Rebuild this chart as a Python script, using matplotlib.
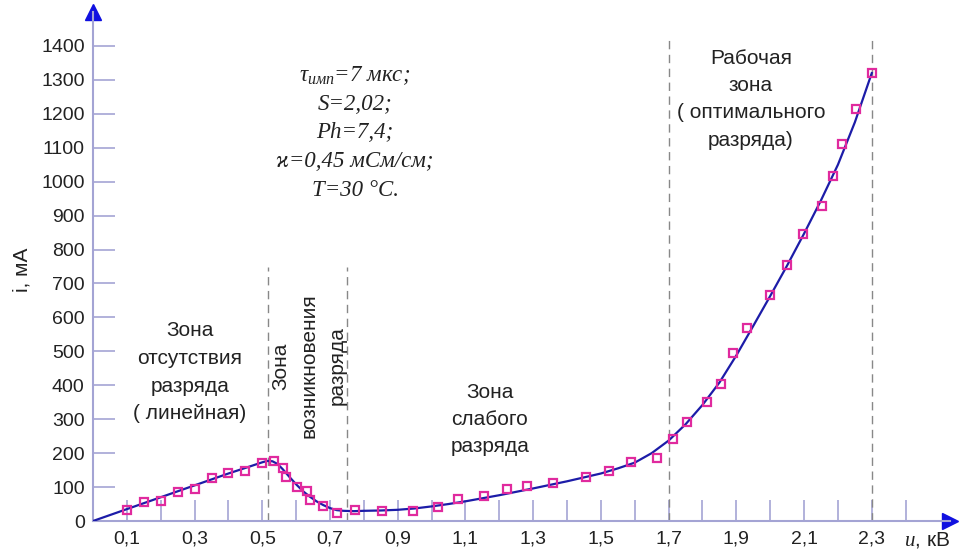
import numpy as np
import matplotlib
matplotlib.use('Agg')
import matplotlib.pyplot as plt

plt.rcParams['font.family'] = ['Liberation Sans', 'DejaVu Sans']
plt.rcParams['mathtext.fontset'] = 'custom'
plt.rcParams['mathtext.it'] = 'Liberation Serif:italic'
plt.rcParams['mathtext.rm'] = 'Liberation Serif'

# измеренные точки (u, кВ ; i, мА)
u_meas = [0.10, 0.15, 0.20, 0.25, 0.30, 0.35, 0.40, 0.45, 0.50, 0.535, 0.562, 0.57,
          0.603, 0.632, 0.641, 0.679, 0.72, 0.774, 0.853, 0.945, 1.018, 1.078, 1.155,
          1.223, 1.282, 1.358, 1.456, 1.524, 1.59, 1.667, 1.713, 1.754, 1.813, 1.854,
          1.89, 1.932, 2.0, 2.049, 2.097, 2.153, 2.185, 2.212, 2.253, 2.301]
i_meas = [33, 57, 60, 85, 93, 128, 142, 148, 171, 177, 157, 131,
          99, 89, 62, 45, 24, 32, 30, 30, 41, 64, 74,
          94, 103, 112, 129, 148, 174, 185, 241, 293, 351, 404,
          495, 569, 665, 754, 846, 928, 1017, 1111, 1214, 1320]

# аппроксимирующая кривая
u_fit = [0.0, 0.1, 0.2, 0.3, 0.4, 0.47, 0.5, 0.515, 0.53, 0.545, 0.56, 0.58, 0.60,
         0.62, 0.64, 0.66, 0.68, 0.70, 0.72, 0.74, 0.77, 0.8, 0.85, 0.9, 0.95, 1.0,
         1.05, 1.1, 1.2, 1.3, 1.4, 1.5, 1.55, 1.6, 1.65, 1.7, 1.75, 1.8, 1.85, 1.9,
         1.95, 2.0, 2.05, 2.1, 2.15, 2.2, 2.25, 2.3]
i_fit = [0, 35, 70, 105, 140, 163, 173, 177, 176, 168, 153, 130, 108,
         88, 72, 58, 47, 38, 32, 30, 29, 30, 31, 33, 37, 43,
         50, 58, 76, 96, 117, 140, 155, 172, 200, 237, 285, 342, 408, 488,
         575, 663, 753, 847, 945, 1050, 1175, 1320]

zone_u = [0.517, 0.75, 1.70, 2.30]
zone_top = [750, 750, 1420, 1420]

x_major = np.arange(0.1, 2.31, 0.2)
x_minor = np.arange(0.2, 2.41, 0.2)
y_ticks = np.arange(0, 1401, 100)

axis_col = '#a4a4d4'
txt_col = '#222222'
fig = plt.figure(figsize=(9.73, 5.51), dpi=100)
ax = fig.add_axes([93 / 973, 30 / 551, 857 / 973, 509 / 551])
ax.set_xlim(0, 2.531)
ax.set_ylim(0, 1500)

for s in ['top', 'right']:
    ax.spines[s].set_visible(False)
for s in ['left', 'bottom']:
    ax.spines[s].set_color(axis_col)
    ax.spines[s].set_linewidth(1.5)
ax.plot(1, 0, '>', color='#1010e0', ms=11, transform=ax.transAxes, clip_on=False)
ax.plot(0, 1, '^', color='#1010e0', ms=11, transform=ax.transAxes, clip_on=False)

ax.set_xticks(x_major)
ax.set_xticklabels([f'{v:.1f}'.replace('.', ',') for v in x_major])
ax.set_xticks(x_minor, minor=True)
ax.set_yticks(y_ticks)
ax.tick_params(axis='x', which='both', direction='in', length=15, width=1.2,
               color=axis_col, labelsize=14, pad=7, labelcolor=txt_col)
ax.tick_params(axis='y', direction='in', length=16, width=1.2, color=axis_col,
               labelsize=14, pad=6, labelcolor=txt_col)

for u, top in zip(zone_u, zone_top):
    ax.plot([u, u], [0, top], '--', color='#888888', lw=1, dashes=(6, 4))

ax.plot(u_fit, i_fit, color='#1c1ca8', lw=1.6, zorder=3)
ax.plot(u_meas, i_meas, 's', ms=5.8, mfc='none', mec='#e02a9e', mew=1.6, zorder=4)

fig.text(22 / 973, 1 - 270 / 551, 'i, мА', rotation=90, ha='center', va='center',
         fontsize=15, color=txt_col)
fig.text(927 / 973, 1 - 540 / 551, '$u$, кВ', ha='center', va='center',
         fontsize=15, color=txt_col)

ptxt = ['$\\tau_{имп}$=7 мкс;', 'S=2,02;', 'Ph=7,4;', 'ϰ=0,45 мСм/см;', 'T=30 °C.']
for k, t in enumerate(ptxt):
    fig.text(355 / 973, 1 - (76 + 28.5 * k) / 551, t, ha='center', va='center',
             fontsize=16.5, family='Liberation Serif', style='italic', color=txt_col)

def zone(x, y, lines, rot=0):
    for k, t in enumerate(lines):
        if rot:
            fig.text((x + 28 * k) / 973, 1 - y / 551, t, rotation=90, ha='center',
                     va='center', fontsize=15, color=txt_col)
        else:
            fig.text(x / 973, 1 - (y + 27.5 * k) / 551, t, ha='center', va='center',
                     fontsize=15, color=txt_col)

zone(190, 331, ['Зона', 'отсутствия', 'разряда', '( линейная)'])
zone(281, 366, ['Зона', 'возникновения', 'разряда'], rot=90)
zone(490, 392, ['Зона', 'слабого', 'разряда'])
zone(751, 58, ['Рабочая', 'зона', '( оптимального', 'разряда)'])

fig.savefig('out.png', dpi=100)
